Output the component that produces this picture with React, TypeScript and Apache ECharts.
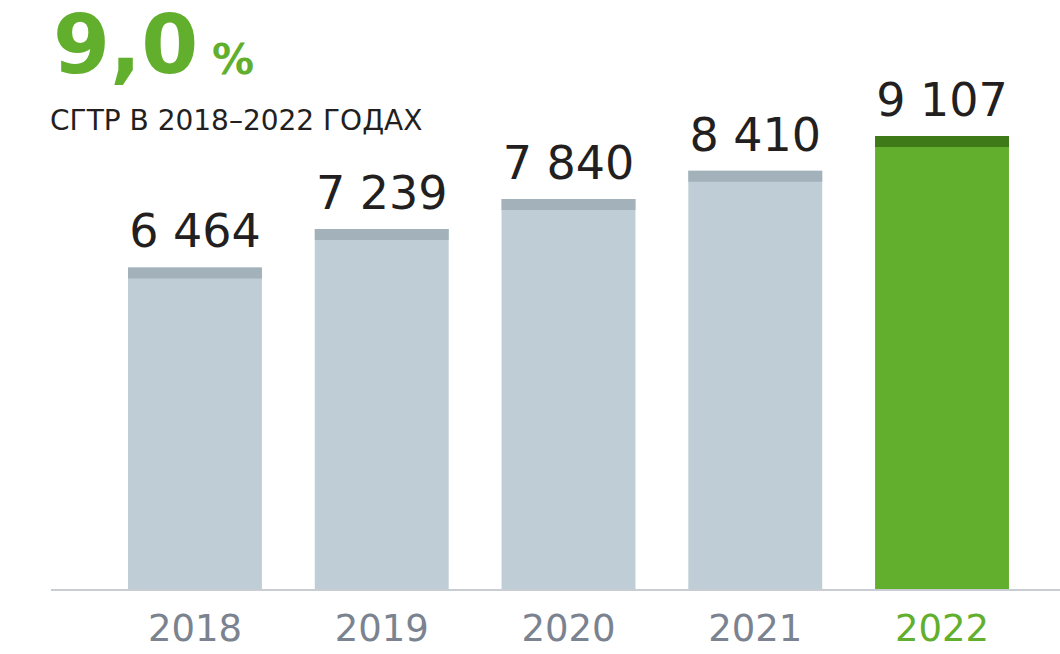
import React, { useEffect, useRef } from "react";
import * as echarts from "echarts";

const years = ["2018", "2019", "2020", "2021", "2022"];
const values = [6464, 7239, 7840, 8410, 9107];
const headline = "9,0";
const headlineUnit = "%";
const subtitle = "СГТР В 2018–2022 ГОДАХ";

const FONT = "'DejaVu Sans', sans-serif";
const GREY = "#BFCED6";
const GREY_CAP = "#A3B1BA";
const GREEN = "#62AF2E";
const GREEN_CAP = "#3F7A19";
const BAR_RATIO = 0.717;
const CAP_PX = 11;

const fmt = (v: number) => {
  const s = String(v);
  return s.length > 3 ? s.slice(0, s.length - 3) + " " + s.slice(-3) : s;
};

export default function App() {
  const ref = useRef<HTMLDivElement>(null);
  useEffect(() => {
    if (!ref.current) return;
    const chart = echarts.init(ref.current, null, { renderer: "svg" });
    const last = years.length - 1;
    chart.setOption({
      animation: false,
      backgroundColor: "#ffffff",
      grid: { left: 101.6, right: 24.6, top: 91.6, bottom: 65 },
      xAxis: {
        type: "category",
        data: years,
        axisLine: { show: false },
        axisTick: { show: false },
        axisLabel: {
          margin: 21,
          fontFamily: FONT,
          fontSize: 37,
          color: (_: any, i: number) => (i === last ? GREEN : "#7B8390"),
        },
      },
      yAxis: { type: "value", min: 0, max: 10000, show: false, splitLine: { show: false } },
      graphic: [
        {
          type: "line",
          shape: { x1: 51, y1: 590, x2: 1060, y2: 590 },
          style: { stroke: "#C8CDD3", lineWidth: 2 },
          z: 10,
        },
        {
          type: "text",
          x: 53,
          y: 3,
          style: {
            text: headline,
            fontFamily: FONT,
            fontWeight: "bold",
            fontSize: 82,
            lineHeight: 82,
            fill: GREEN,
            verticalAlign: "top",
          },
        },
        {
          type: "text",
          x: 212,
          y: 38,
          style: {
            text: headlineUnit,
            fontFamily: FONT,
            fontWeight: "bold",
            fontSize: 42,
            fill: GREEN,
            verticalAlign: "top",
          },
        },
        {
          type: "text",
          x: 50,
          y: 106,
          style: {
            text: subtitle,
            fontFamily: FONT,
            fontSize: 28,
            fill: "#231F20",
            verticalAlign: "top",
          },
        },
      ],
      series: [
        {
          type: "bar",
          data: values.map((v, i) => ({
            value: v,
            itemStyle: { color: i === last ? GREEN : GREY },
          })),
          barWidth: (BAR_RATIO * 100).toFixed(1) + "%",
          label: {
            show: true,
            position: "top",
            distance: 13,
            fontFamily: FONT,
            fontSize: 46,
            color: "#231F20",
            formatter: (p: any) => fmt(p.value),
          },
        },
        {
          type: "custom",
          data: values.map((v, i) => [i, v]),
          z: 5,
          renderItem: (params: any, api: any) => {
            const idx = api.value(0);
            const p = api.coord([idx, api.value(1)]);
            const w = api.size([1, 0])[0] * BAR_RATIO;
            return {
              type: "rect",
              shape: { x: p[0] - w / 2, y: p[1], width: w, height: CAP_PX },
              style: { fill: idx === last ? GREEN_CAP : GREY_CAP },
            };
          },
        },
      ],
    });
    return () => chart.dispose();
  }, []);
  return <div ref={ref} style={{ width: 1060, height: 654, position: "absolute", left: 0, top: 0 }} />;
}
